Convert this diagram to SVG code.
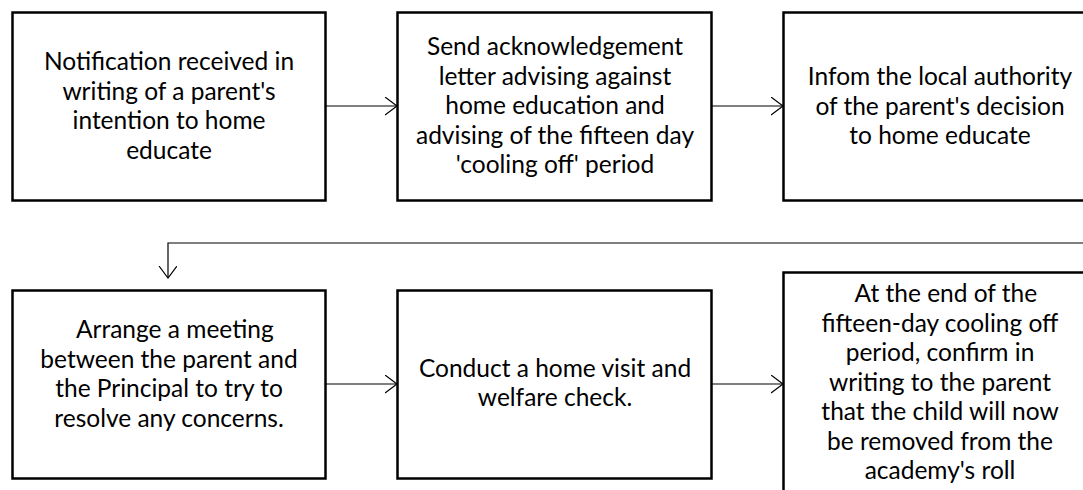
<svg xmlns="http://www.w3.org/2000/svg" width="1083" height="490" viewBox="0 0 1083 490">
<style>
.box{fill:#fff;stroke:#000;stroke-width:2.5}
.t{font-family:Lato,"Liberation Sans",sans-serif;font-size:24.5px;fill:#000;text-anchor:middle}
.c{fill:none;stroke:#000;stroke-width:1.2}
</style>
<defs>
<marker id="ah" markerWidth="14" markerHeight="20" refX="12" refY="9" orient="auto" markerUnits="userSpaceOnUse">
<path d="M0,0 L12,9 L0,18" fill="none" stroke="#000" stroke-width="1.2"/>
</marker>
</defs>
<rect width="1083" height="490" fill="#fff"/>
<g id="connectors">
<line class="c" x1="326" y1="106" x2="397" y2="106" marker-end="url(#ah)"/>
<line class="c" x1="712" y1="106" x2="783" y2="106" marker-end="url(#ah)"/>
<polyline class="c" points="1090,243 168,243 168,278" marker-end="url(#ah)"/>
<line class="c" x1="325" y1="384" x2="397" y2="384" marker-end="url(#ah)"/>
<line class="c" x1="712" y1="384" x2="783" y2="384" marker-end="url(#ah)"/>
</g>
<g id="n1">
<rect class="box" x="12.5" y="12.5" width="313" height="188"/>
<text class="t" x="169" y="70">Notification received in</text>
<text class="t" x="169" y="99.5">writing of a parent's</text>
<text class="t" x="169" y="129">intention to home</text>
<text class="t" x="169" y="158.5">educate</text>
</g>
<g id="n2">
<rect class="box" x="397.5" y="12.5" width="314" height="188"/>
<text class="t" x="555" y="55">Send acknowledgement</text>
<text class="t" x="555" y="84.5">letter advising against</text>
<text class="t" x="555" y="114">home education and</text>
<text class="t" x="555" y="143.5">advising of the fifteen day</text>
<text class="t" x="555" y="173">'cooling off' period</text>
</g>
<g id="n3">
<rect class="box" x="783.5" y="12.5" width="314" height="188"/>
<text class="t" x="940" y="85">Infom the local authority</text>
<text class="t" x="940" y="114.5">of the parent's decision</text>
<text class="t" x="940" y="144">to home educate</text>
</g>
<g id="n4">
<rect class="box" x="12.5" y="290.5" width="313" height="188"/>
<text class="t" x="169" y="338" xml:space="preserve">  Arrange a meeting</text>
<text class="t" x="169" y="367.5">between the parent and</text>
<text class="t" x="169" y="397">the Principal to try to</text>
<text class="t" x="169" y="426.5">resolve any concerns.</text>
</g>
<g id="n5">
<rect class="box" x="397.5" y="290.5" width="314" height="188"/>
<text class="t" x="555" y="377">Conduct a home visit and</text>
<text class="t" x="555" y="406">welfare check.</text>
</g>
<g id="n6">
<rect class="box" x="783.5" y="272.5" width="314" height="230"/>
<text class="t" x="940" y="302" xml:space="preserve">  At the end of the</text>
<text class="t" x="940" y="331.5">fifteen-day cooling off</text>
<text class="t" x="940" y="361">period, confirm in</text>
<text class="t" x="940" y="390.5">writing to the parent</text>
<text class="t" x="940" y="420">that the child will now</text>
<text class="t" x="940" y="449.5">be removed from the</text>
<text class="t" x="940" y="479">academy's roll</text>
</g>
</svg>
